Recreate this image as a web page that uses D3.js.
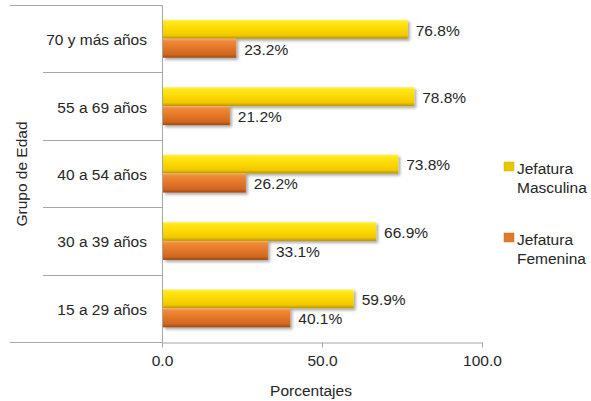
<!DOCTYPE html>
<html><head><meta charset="utf-8">
<script src="https://cdn.jsdelivr.net/npm/d3@7/dist/d3.min.js"></script>
<style>
html,body{margin:0;padding:0;background:#fff;}
svg text{font-family:"Liberation Sans",Arial,sans-serif;fill:#262626;}
</style></head>
<body>
<svg id="chart" width="591" height="401"></svg>
<script>
const categories = ["70 y más años","55 a 69 años","40 a 54 años","30 a 39 años","15 a 29 años"];
const masculina = [76.8, 78.8, 73.8, 66.9, 59.9];
const femenina = [23.2, 21.2, 26.2, 33.1, 40.1];
const seriesNames = ["Jefatura Masculina","Jefatura Femenina"];
const xTicks = [0, 50, 100];

const svg = d3.select("#chart");
const fs = "15.5px";
const defs = svg.append("defs");

function grad(id, stops){
  const g = defs.append("linearGradient").attr("id", id)
    .attr("x1",0).attr("y1",0).attr("x2",0).attr("y2",1);
  stops.forEach(s => g.append("stop").attr("offset", s[0]).attr("stop-color", s[1]));
}
grad("gY", [[0,"#fff27a"],[0.12,"#ffe81a"],[0.5,"#fbd800"],[0.82,"#f0c800"],[1,"#b89400"]]);
grad("gO", [[0,"#f7b070"],[0.12,"#f08a3a"],[0.5,"#e27626"],[0.82,"#d06820"],[1,"#9c4a10"]]);
const f = defs.append("filter").attr("id","sh").attr("x","-5%").attr("y","-30%").attr("width","115%").attr("height","170%");
f.append("feGaussianBlur").attr("in","SourceAlpha").attr("stdDeviation",1.6).attr("result","b");
f.append("feOffset").attr("in","b").attr("dx",1.5).attr("dy",1.5).attr("result","o");
f.append("feComponentTransfer").attr("in","o").attr("result","o2").append("feFuncA").attr("type","linear").attr("slope",0.35);
const fm = f.append("feMerge");
fm.append("feMergeNode").attr("in","o2");
fm.append("feMergeNode").attr("in","SourceGraphic");

const x = d3.scaleLinear().domain([0,100]).range([162,482]);
const y = d3.scaleBand().domain(categories).range([5,342]).padding(0);
const y1 = d3.scaleBand().domain(seriesNames).range([0,y.bandwidth()]).paddingInner(0).paddingOuter(0.77);
const colors = {"Jefatura Masculina":"url(#gY)","Jefatura Femenina":"url(#gO)"};
const legendColors = {"Jefatura Masculina":"#e8c800","Jefatura Femenina":"#e07a2a"};

const data = categories.map((c,i)=>({cat:c, vals:[
  {s:seriesNames[0], v:masculina[i]},
  {s:seriesNames[1], v:femenina[i]}]}));

// axis lines
const axisColor = "#a6a6a6";
// vertical category axis line
svg.append("line").attr("x1",x(0)+0.5).attr("x2",x(0)+0.5).attr("y1",5).attr("y2",347)
  .attr("stroke",axisColor).attr("stroke-width",1);
// top and bottom long lines
[5,342].forEach(yy=>{
  svg.append("line").attr("x1",10).attr("x2",x(0)).attr("y1",yy+0.5).attr("y2",yy+0.5)
    .attr("stroke",axisColor);
});
// category separators
categories.slice(1).forEach(c=>{
  const yy = Math.round(y(c));
  svg.append("line").attr("x1",43).attr("x2",x(0)).attr("y1",yy+0.5).attr("y2",yy+0.5)
    .attr("stroke",axisColor);
});

// x axis
const xAxis = d3.axisBottom(x).tickValues(xTicks).tickFormat(d3.format(".1f")).tickSize(5).tickSizeOuter(0);
const gx = svg.append("g").attr("transform","translate(0,342.5)").call(xAxis);
gx.select(".domain").attr("stroke",axisColor);
gx.selectAll(".tick line").attr("stroke",axisColor);
gx.selectAll(".tick text").attr("font-size",fs).attr("y",12).attr("dy","0.71em")
  .style("font-family","Liberation Sans, Arial, sans-serif").attr("fill","#262626");
gx.attr("font-family",null);

// bars
const rows = svg.append("g").selectAll("g").data(data).join("g")
  .attr("transform", d=>`translate(0,${y(d.cat)})`);
rows.selectAll("rect").data(d=>d.vals).join("rect")
  .attr("x", x(0)+1)
  .attr("y", d=>y1(d.s))
  .attr("width", d=>x(d.v)-x(0)-1)
  .attr("height", y1.bandwidth())
  .attr("fill", d=>colors[d.s])
  .attr("filter","url(#sh)");
rows.selectAll("text.val").data(d=>d.vals).join("text").attr("class","val")
  .attr("x", d=>x(d.v)+8)
  .attr("y", d=>y1(d.s)+y1.bandwidth()/2+1)
  .attr("dy","0.35em")
  .attr("font-size",fs)
  .text(d=>d.v.toFixed(1)+"%");

// category labels
svg.append("g").selectAll("text").data(categories).join("text")
  .attr("x",147).attr("y",d=>y(d)+y.bandwidth()/2+1).attr("dy","0.35em")
  .attr("text-anchor","end").attr("font-size",fs).text(d=>d);

// axis titles
svg.append("text").attr("x",311).attr("y",396).attr("text-anchor","middle")
  .attr("font-size",fs).text("Porcentajes");
svg.append("text").attr("transform","translate(27,174) rotate(-90)").attr("text-anchor","middle")
  .attr("font-size",fs).text("Grupo de Edad");

// legend
const legendY = [174, 245];
const lg = svg.append("g").selectAll("g").data(seriesNames).join("g")
  .attr("transform",(d,i)=>`translate(504,${legendY[i]})`);
lg.append("rect").attr("x",0).attr("y",-12).attr("width",10).attr("height",9)
  .attr("fill",d=>legendColors[d]).attr("stroke",d=>d3.color(legendColors[d]).darker(0.3)).attr("stroke-width",0.5);
lg.each(function(d){
  const parts = d.split(" ");
  const t = d3.select(this).append("text").attr("x",13).attr("y",0).attr("font-size",fs);
  parts.forEach((p,j)=>t.append("tspan").attr("x",13).attr("dy", j===0?0:19).text(p));
});
</script>
</body></html>
